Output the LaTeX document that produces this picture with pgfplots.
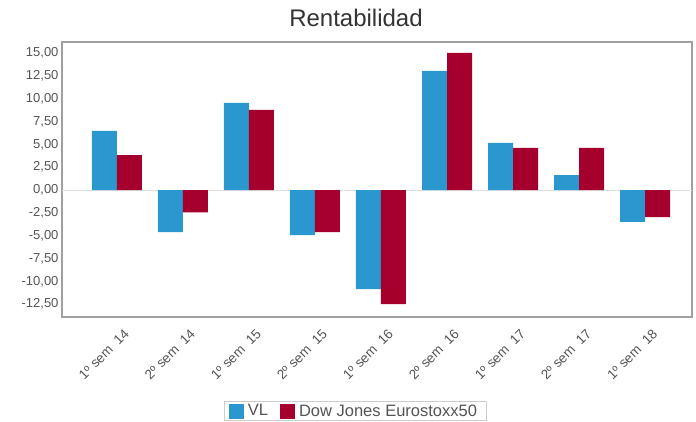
\documentclass[border=0pt]{standalone}
\usepackage{pgfplots}
\pgfplotsset{compat=1.18}
\usepackage{fontspec}
\setmainfont{Liberation Sans}

\definecolor{vlblue}{RGB}{42,152,206}
\definecolor{djred}{RGB}{165,0,45}
\definecolor{axisgray}{RGB}{160,160,160}
\definecolor{labelgray}{RGB}{85,85,85}

\begin{document}
\begin{tikzpicture}
\path[use as bounding box] (0,0) rectangle (696bp,422bp);
\node[font=\fontsize{24bp}{28bp}\selectfont, text=black!80] at (356bp,404bp) {Rentabilidad};
\begin{axis}[
    at={(62bp,105bp)}, anchor=south west,
    width=630bp, height=275bp, scale only axis,
    ybar=0pt, bar width=25bp,
    xmin=-0.83, xmax=8.71,
    ymin=-13.9, ymax=16.2,
    xtick={0,...,8},
    xticklabels={1º sem~~14,2º sem~~14,1º sem~~15,2º sem~~15,1º sem~~16,2º sem~~16,1º sem~~17,2º sem~~17,1º sem~~18},
    ytick={-12.5,-10,...,15},
    major tick length=0pt,
    /pgf/number format/assume math mode=true,
    ticklabel style={text=labelgray},
    yticklabel style={font=\fontsize{13bp}{15bp}\selectfont,
        /pgf/number format/fixed, /pgf/number format/fixed zerofill,
        /pgf/number format/precision=2, /pgf/number format/use comma},
    xticklabel style={font=\fontsize{13.5bp}{16bp}\selectfont, rotate=45, anchor=north east, xshift=0bp, yshift=-9bp},
    axis line style={draw=axisgray, line width=1.2bp},
    legend style={at={(0.465,-0.342)}, anchor=center, legend columns=2,
        draw=black!20, font=\fontsize{16.5bp}{19bp}\selectfont, text=labelgray,
        inner xsep=5bp, inner ysep=1bp,
        nodes={inner xsep=4bp},
        /tikz/every even column/.append style={column sep=8bp}},
    legend image code/.code={\fill[#1] (0bp,-7.5bp) rectangle (15bp,7.5bp);},
]
\draw[black!12, line width=1bp] (axis cs:-0.83,0) -- (axis cs:8.71,0);
\addplot[fill=vlblue, draw=none] coordinates {
    (0,6.46) (1,-4.6) (2,9.53) (3,-4.93) (4,-10.84) (5,13.03) (6,5.15) (7,1.64) (8,-3.5)
};
\addplot[fill=djred, draw=none] coordinates {
    (0,3.83) (1,-2.45) (2,8.76) (3,-4.6) (4,-12.49) (5,15.0) (6,4.6) (7,4.6) (8,-2.96)
};
\legend{VL,Dow Jones Eurostoxx50}
\end{axis}
\end{tikzpicture}
\end{document}
